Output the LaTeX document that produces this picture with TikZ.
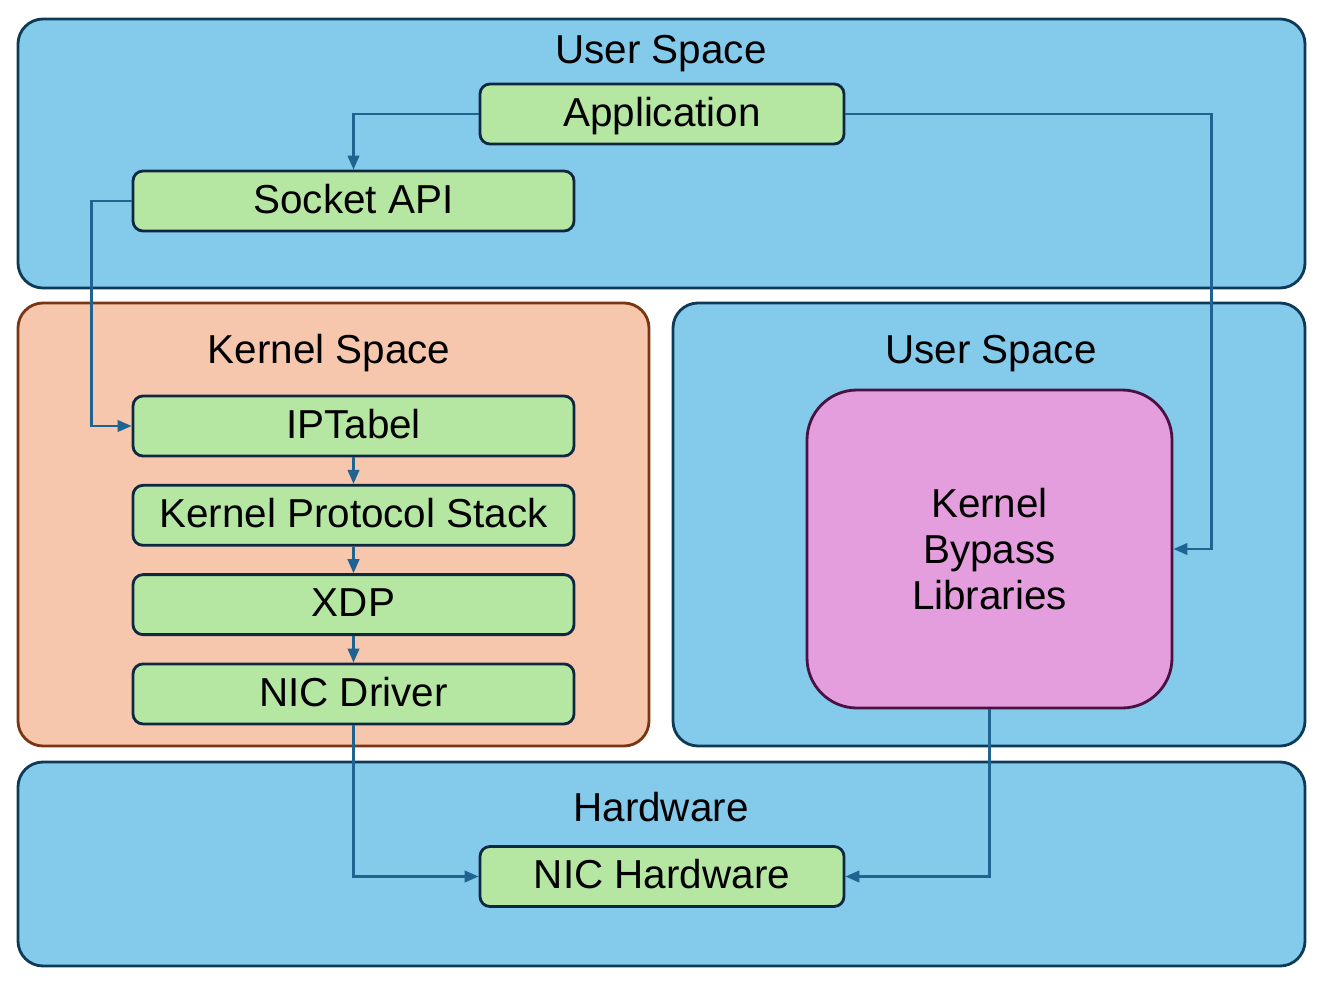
\documentclass[tikz,border=0pt]{standalone}
\usepackage{fontspec}
\setmainfont{Liberation Sans}
\usetikzlibrary{positioning, arrows.meta}

\definecolor{spacefill}{HTML}{83CAEB}
\definecolor{spaceline}{HTML}{0E3A57}
\definecolor{kernfill}{HTML}{F6C6AD}
\definecolor{kernline}{HTML}{7A3612}
\definecolor{blockfill}{HTML}{B5E6A2}
\definecolor{blockline}{HTML}{0E2841}
\definecolor{libfill}{HTML}{E59EDD}
\definecolor{libline}{HTML}{4A1242}
\definecolor{flowblue}{HTML}{1F6391}

\begin{document}
\begin{tikzpicture}[
    font=\fontsize{11.5}{13}\selectfont,
    region/.style={rectangle, draw=spaceline, fill=spacefill, line width=0.8pt, rounded corners=0.25cm},
    kregion/.style={region, draw=kernline, fill=kernfill},
    title/.style={inner sep=0pt, text height=0.70em, text depth=0pt},
    block/.style={rectangle, draw=blockline, fill=blockfill, line width=0.8pt, rounded corners=0.1cm,
                  minimum width=4.41cm, minimum height=0.6cm, inner sep=0pt, text height=0.70em, text depth=0pt},
    shortblock/.style={block, minimum width=3.64cm},
    libbox/.style={rectangle, draw=libline, fill=libfill, line width=0.8pt, rounded corners=0.5cm,
                   minimum width=3.65cm, minimum height=3.18cm, align=center},
    flow/.style={-{Triangle[length=1.4mm, width=1.15mm]}, flowblue, line width=0.7pt},
]

\useasboundingbox (0,0) rectangle (13.22,-9.90);

% Regions
\node[region, minimum width=12.87cm, minimum height=2.69cm] (utop) at (6.615,-1.535) {};
\node[kregion, minimum width=6.31cm, minimum height=4.43cm] (kspace) at (3.335,-5.245) {};
\node[region, minimum width=6.32cm, minimum height=4.43cm] (uright) at (9.89,-5.245) {};
\node[region, minimum width=12.87cm, minimum height=2.04cm] (hw) at (6.615,-8.64) {};

% Region titles
\node[title] (utoptitle) at (6.61,-0.515) {User Space};
\node[title] (kspacetitle) at (3.29,-3.515) {Kernel Space};
\node[title] (urighttitle) at (9.91,-3.515) {User Space};
\node[title] (hwtitle) at (6.61,-8.095) {Hardware};

% User space blocks
\node[shortblock] (app) at (6.62,-1.14) {Application};
\node[block] (sock) at (3.535,-2.01) {Socket API};

% Kernel column
\node[block] (ipt) at (3.535,-4.26) {IPTabel};
\node[block, below=0.265cm of ipt] (kps) {Kernel Protocol Stack};
\node[block, below=0.265cm of kps] (xdp) {XDP};
\node[block, below=0.265cm of xdp] (nicd) {NIC Driver};

% Bypass libraries
\node[libbox] (kbl) at (9.895,-5.49) {Kernel\\Bypass\\Libraries};

% Hardware
\node[shortblock] (nichw) at (6.62,-8.765) {NIC Hardware};

% Arrows - kernel path
\draw[flow] (app.west) -| (sock.north);
\draw[flow] (sock.west) -- ++(-0.40,0) |- (ipt.west);
\draw[flow] (ipt) -- (kps);
\draw[flow] (kps) -- (xdp);
\draw[flow] (xdp) -- (nicd);
\draw[flow] (nicd.south) |- (nichw.west);

% Arrows - bypass path
\draw[flow] (app.east) -- ++(3.66,0) |- (kbl.east);
\draw[flow] (kbl.south) |- (nichw.east);

\end{tikzpicture}
\end{document}
